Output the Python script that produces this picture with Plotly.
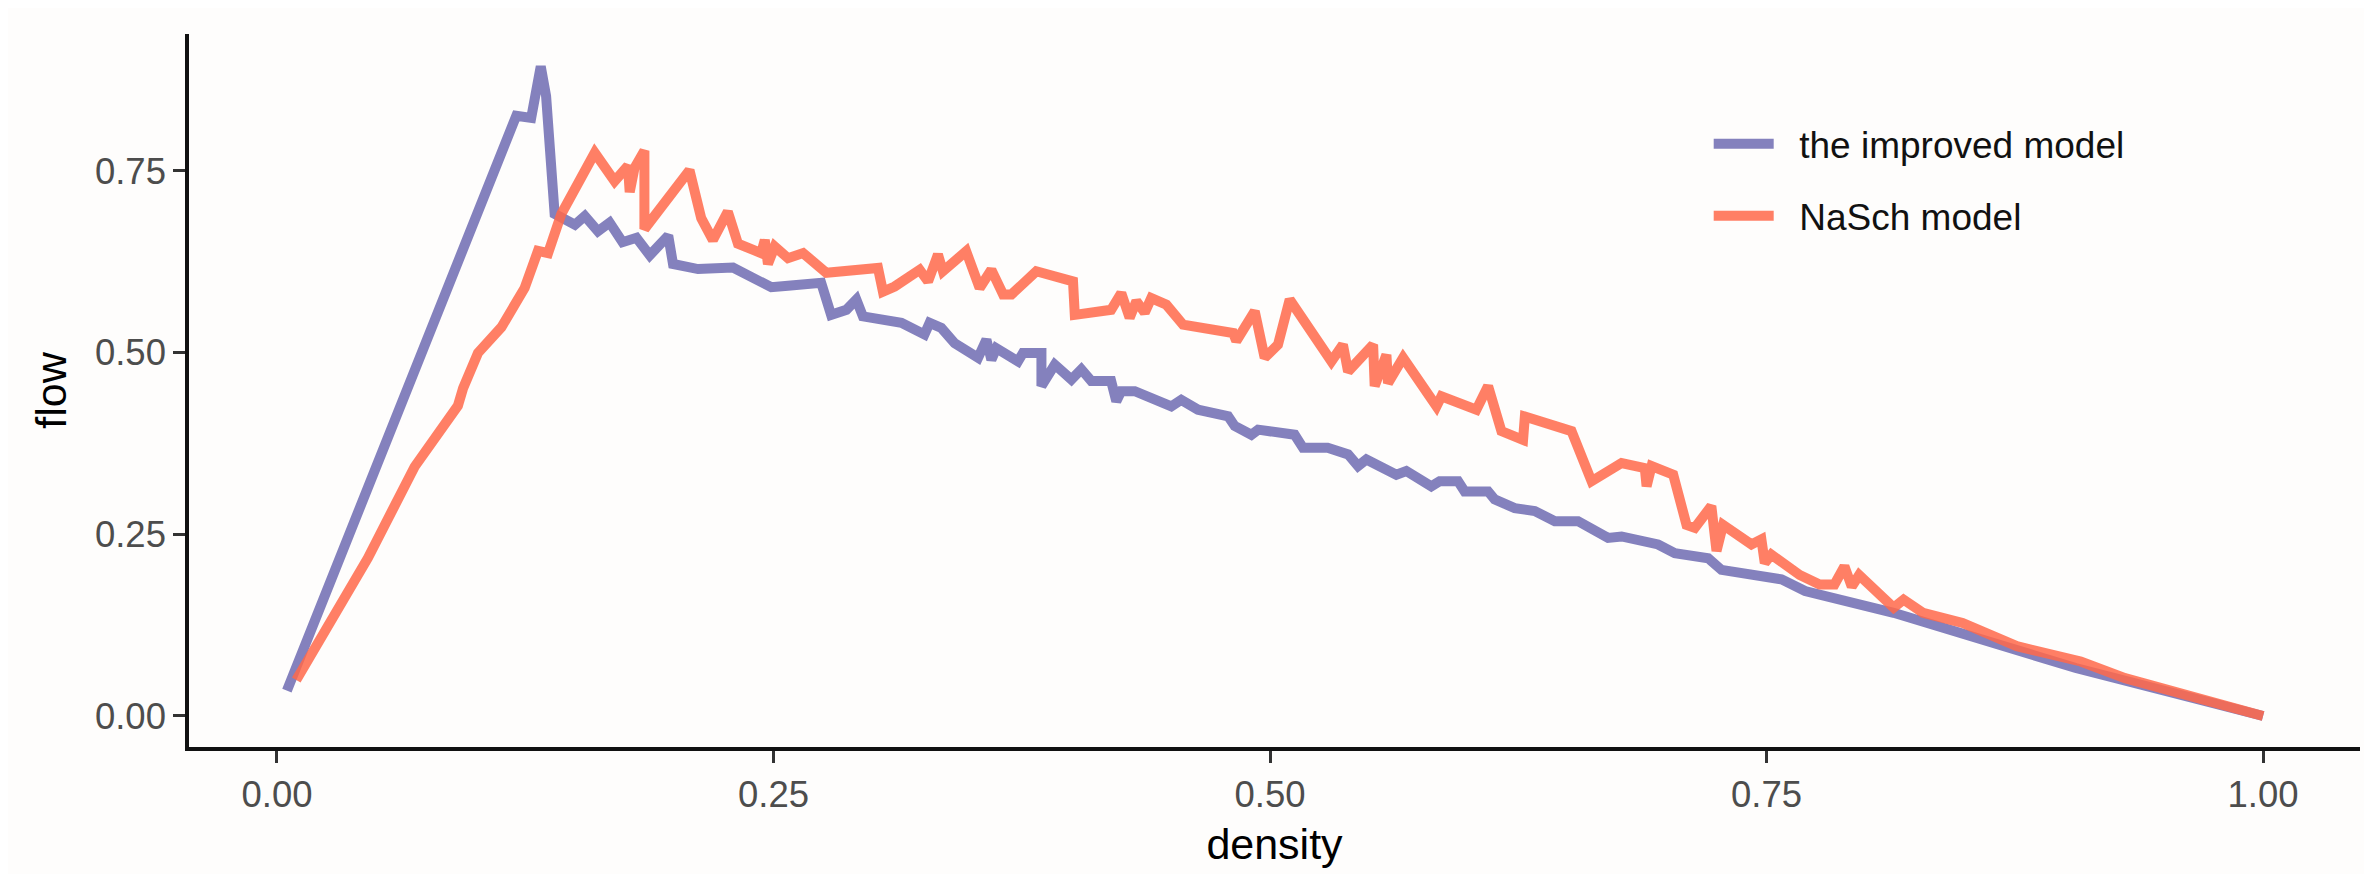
import plotly.graph_objects as go

# ---- data ----
improved_density = [0.005, 0.1205, 0.128, 0.1328, 0.1355, 0.1398, 0.150, 0.155, 0.1616, 0.1675,
                    0.174, 0.181, 0.1877, 0.197, 0.1994, 0.212, 0.2296, 0.2489, 0.2573, 0.274,
                    0.279, 0.2867, 0.2917, 0.295, 0.3144, 0.326, 0.3286, 0.3345, 0.3412, 0.353,
                    0.3572, 0.3597, 0.3622, 0.3731, 0.3756, 0.3849, 0.3849, 0.3916, 0.400, 0.405,
                    0.410, 0.420, 0.4226, 0.4251, 0.4319, 0.4503, 0.4553, 0.4637, 0.4789, 0.4822,
                    0.4906, 0.494, 0.5124, 0.5166, 0.529, 0.5393, 0.5443, 0.5485, 0.5636, 0.5686,
                    0.5812, 0.5854, 0.5947, 0.598, 0.6098, 0.6131, 0.6232, 0.6333, 0.6434, 0.6551,
                    0.6702, 0.677, 0.6954, 0.7038, 0.7206, 0.7273, 0.7575, 0.7694, 0.814, 0.8288,
                    0.8585, 0.9057, 1.0]
improved_flow = [0.035, 0.826, 0.823, 0.894, 0.853, 0.691, 0.676, 0.688, 0.667, 0.679,
                 0.652, 0.658, 0.634, 0.661, 0.622, 0.615, 0.617, 0.590, 0.592, 0.596,
                 0.552, 0.559, 0.573, 0.550, 0.541, 0.525, 0.541, 0.534, 0.513, 0.493,
                 0.518, 0.490, 0.506, 0.488, 0.4995, 0.4995, 0.454, 0.4835, 0.463, 0.477,
                 0.461, 0.461, 0.433, 0.447, 0.447, 0.426, 0.435, 0.4215, 0.4124, 0.399,
                 0.387, 0.394, 0.387, 0.369, 0.369, 0.360, 0.344, 0.353, 0.332, 0.337,
                 0.316, 0.323, 0.323, 0.309, 0.309, 0.298, 0.286, 0.282, 0.268, 0.268,
                 0.245, 0.247, 0.236, 0.224, 0.217, 0.201, 0.188, 0.172, 0.142, 0.130,
                 0.103, 0.066, 0.0]

nasch_density = [0.0097, 0.0458, 0.0693, 0.0911, 0.0937, 0.1012, 0.113, 0.1247, 0.1314, 0.1365,
                 0.1432, 0.160, 0.170, 0.1767, 0.1776, 0.180, 0.185, 0.185, 0.2077, 0.2136,
                 0.2195, 0.227, 0.2321, 0.2438, 0.2456, 0.2472, 0.2506, 0.2573, 0.2649, 0.2766,
                 0.3026, 0.3051, 0.311, 0.3236, 0.3278, 0.3328, 0.3353, 0.347, 0.3538, 0.3597,
                 0.3656, 0.3698, 0.3823, 0.4008, 0.4017, 0.420, 0.4251, 0.4293, 0.4327, 0.4369,
                 0.4402, 0.4478, 0.4562, 0.4814, 0.483, 0.4923, 0.4973, 0.504, 0.5099, 0.519,
                 0.5258, 0.5309, 0.5367, 0.5393, 0.5519, 0.5527, 0.5586, 0.5594, 0.567, 0.5745,
                 0.5838, 0.5863, 0.6039, 0.6098, 0.6165, 0.6274, 0.6283, 0.6518, 0.6619, 0.677,
                 0.6887, 0.6896, 0.6921, 0.703, 0.7097, 0.7139, 0.7222, 0.7248, 0.7281, 0.7424,
                 0.7474, 0.7491, 0.7524, 0.7667, 0.7767, 0.7842, 0.7892, 0.7929, 0.7966, 0.814,
                 0.819, 0.8288, 0.8487, 0.876, 0.9082, 0.9305, 1.0]
nasch_flow = [0.0495, 0.2175, 0.343, 0.427, 0.451, 0.4995, 0.535, 0.589, 0.640, 0.637,
              0.691, 0.775, 0.736, 0.757, 0.721, 0.754, 0.778, 0.670, 0.751, 0.685,
              0.655, 0.694, 0.650, 0.637, 0.655, 0.622, 0.646, 0.630, 0.637, 0.610,
              0.6165, 0.584, 0.591, 0.614, 0.598, 0.635, 0.612, 0.6395, 0.589, 0.614,
              0.580, 0.580, 0.612, 0.598, 0.552, 0.559, 0.582, 0.548, 0.571, 0.555,
              0.575, 0.566, 0.5385, 0.527, 0.516, 0.557, 0.493, 0.511, 0.573, 0.537,
              0.511, 0.488, 0.511, 0.474, 0.511, 0.454, 0.497, 0.458, 0.493, 0.465,
              0.426, 0.440, 0.4215, 0.454, 0.392, 0.380, 0.412, 0.392, 0.323, 0.348,
              0.341, 0.316, 0.344, 0.332, 0.263, 0.259, 0.289, 0.227, 0.263, 0.236,
              0.243, 0.2105, 0.222, 0.194, 0.181, 0.181, 0.206, 0.178, 0.194, 0.149,
              0.160, 0.142, 0.128, 0.096, 0.075, 0.052, 0.0]

x_ticks = [0.0, 0.25, 0.5, 0.75, 1.0]
x_ticklabels = ["0.00", "0.25", "0.50", "0.75", "1.00"]
y_ticks = [0.0, 0.25, 0.5, 0.75]
y_ticklabels = ["0.00", "0.25", "0.50", "0.75"]

FONT = "Liberation Sans, Arial, sans-serif"
GAP = "\u00a0\u00a0"  # small gap between legend key and its label

fig = go.Figure()
fig.add_trace(go.Scatter(
    x=improved_density, y=improved_flow, mode="lines", name=GAP + "the improved model",
    line=dict(color="#8481BD", width=10), legendgroup="a"))
fig.add_trace(go.Scatter(
    x=nasch_density, y=nasch_flow, mode="lines", name=GAP + "NaSch model",
    line=dict(color="rgba(255,104,74,0.85)", width=10), legendgroup="b"))

axis_common = dict(
    showline=True, linecolor="#111111", linewidth=3.5, mirror=False,
    showgrid=False, zeroline=False,
    ticks="outside", ticklen=12, tickwidth=3, tickcolor="#333333",
    tickfont=dict(family=FONT, size=36.5, color="#4D4D4D"),
)

fig.update_xaxes(
    range=[-0.0443, 1.0488], tickvals=x_ticks, ticktext=x_ticklabels,
    title=dict(text="density", font=dict(family=FONT, size=43, color="#000000"), standoff=16),
    **axis_common)
fig.update_yaxes(
    range=[-0.0427, 0.9385], tickvals=y_ticks, ticktext=y_ticklabels,
    title=dict(text="flow", font=dict(family=FONT, size=43, color="#000000"), standoff=16),
    **axis_common)

fig.update_layout(
    width=2372, height=874,
    margin=dict(l=181, r=20, t=26, b=135),
    paper_bgcolor="#FEFDFC", plot_bgcolor="#FEFDFC",
    font=dict(family=FONT),
    showlegend=True,
    legend=dict(
        x=0.70, y=0.889, xanchor="left", yanchor="top",
        bgcolor="rgba(0,0,0,0)", borderwidth=0,
        font=dict(family=FONT, size=37, color="#111111"),
        itemwidth=60, tracegroupgap=21,
    ),
)

fig.write_html("out.html", config={"displayModeBar": False})
